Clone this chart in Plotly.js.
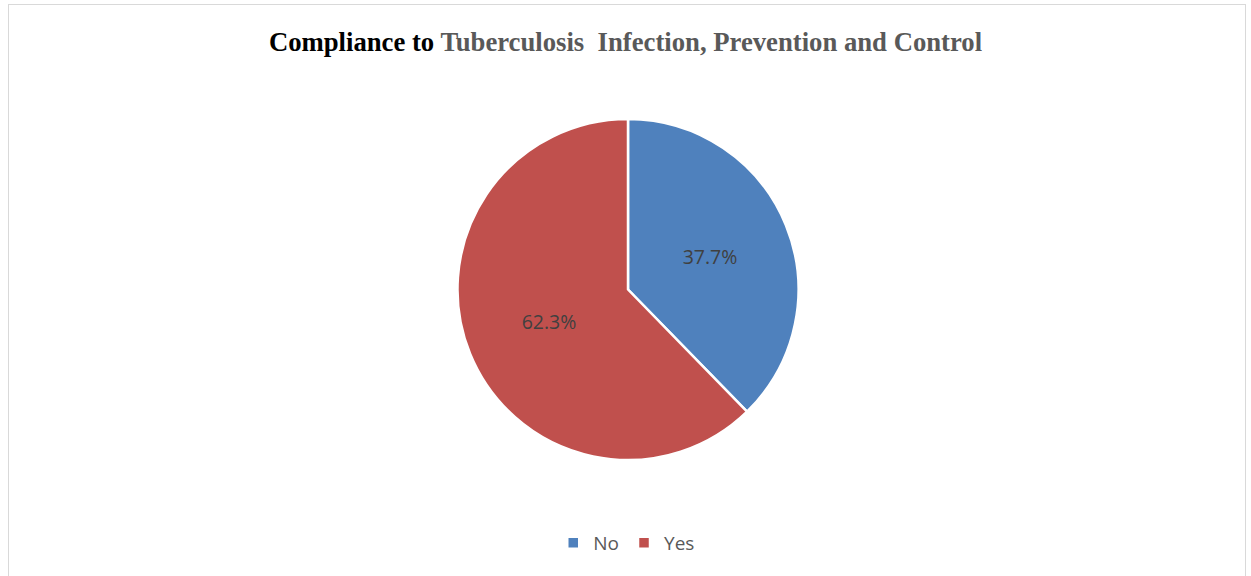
<!DOCTYPE html>
<html><head><meta charset="utf-8">
<script src="https://cdn.plot.ly/plotly-3.0.1.min.js"></script>
<style>html,body{margin:0;padding:0;background:#fff;}#wrap{position:relative;width:1251px;height:576px;}
#frame{position:absolute;left:8px;top:4px;width:1236px;height:600px;border:1px solid #d9d9d9;pointer-events:none;}</style>
</head><body><div id="wrap"><div id="chart" style="width:1251px;height:576px;"></div><div id="frame"></div></div>
<script>
const categories = ["No", "Yes"];
const values = [37.7, 62.3];
const colors = ["#4f81bd", "#c0504d"];
const titleBlack = "Compliance to";
const titleGray = "Tuberculosis  Infection, Prevention and Control";

Plotly.newPlot("chart", [{
  type: "pie",
  labels: categories,
  values: values,
  sort: false,
  direction: "clockwise",
  rotation: 0,
  marker: {colors: colors, line: {color: "#ffffff", width: 2.5}},
  textposition: "inside",
  texttemplate: "%{value:.1f}%",
  insidetextfont: {family: "Open Sans, sans-serif", size: 19.5, color: "#404040"},
  hoverinfo: "label+percent"
}], {
  width: 1251, height: 576,
  margin: {l: 5, r: 0, t: 119, b: 116, autoexpand: false},
  paper_bgcolor: "#ffffff",
  title: {
    text: "<b>" + titleBlack + " <span style='color:#595959'>" + titleGray.replace("  ", "&nbsp; ") + "</span></b>",
    font: {family: "Liberation Serif, Times New Roman, serif", size: 26.7, color: "#000000"},
    x: 0.5, xanchor: "center", y: 0.927, yanchor: "middle"
  },
  showlegend: true,
  legend: {orientation: "h", x: 0.499, xanchor: "center", y: -0.243, yanchor: "middle",
    font: {family: "Open Sans, sans-serif", size: 19, color: "#595959"}, itemwidth: 30}
}, {displayModeBar: false});
</script></body></html>
